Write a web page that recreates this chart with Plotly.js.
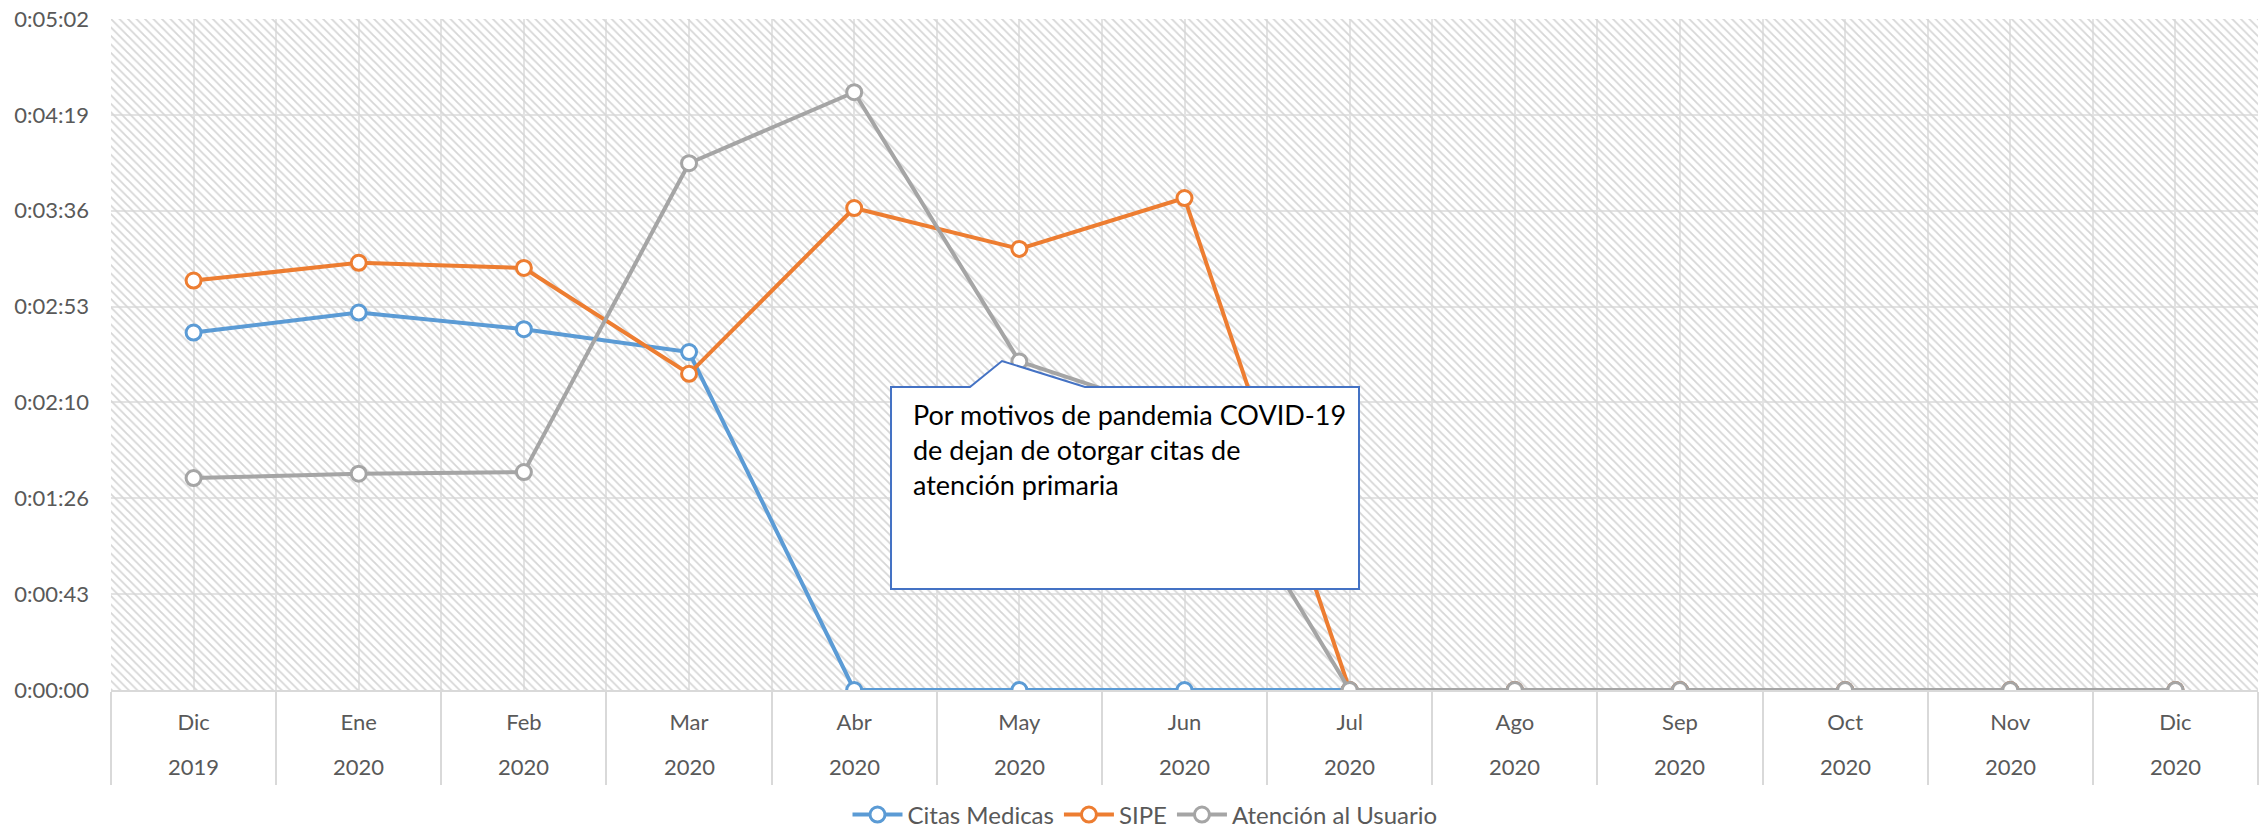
<!DOCTYPE html>
<html>
<head>
<meta charset="utf-8">
<script src="https://cdn.plot.ly/plotly-3.0.1.min.js"></script>
<style>html,body{margin:0;padding:0;background:#fff;}#chart{width:2262px;height:829px;}</style>
</head>
<body>
<div id="chart"></div>
<script>
// ---- data (values in seconds) ----
const months = ['Dic','Ene','Feb','Mar','Abr','May','Jun','Jul','Ago','Sep','Oct','Nov','Dic'];
const years  = ['2019','2020','2020','2020','2020','2020','2020','2020','2020','2020','2020','2020','2020'];
const citasMedicas = [161.1, 170.1, 162.6, 152.3, 0, 0, 0, 0, 0, 0, 0, 0, 0];
const sipe         = [184.5, 192.5, 190.2, 142.5, 217.2, 198.8, 221.7, 0, 0, 0, 0, 0, 0];
const atencion     = [95.5, 97.5, 98.2, 237.4, 269.4, 148.1, 123.5, 0, 0, 0, 0, 0, 0];
const yTickVals  = [0, 43.2, 86.4, 129.6, 172.8, 216, 259.2, 302.4];
const yTickText  = ['0:00:00','0:00:43','0:01:26','0:02:10','0:02:53','0:03:36','0:04:19','0:05:02'];
const seriesNames = ['Citas Medicas', 'SIPE', 'Atención al Usuario'];
const noteText = 'Por motivos de pandemia COVID-19<br>de dejan de otorgar citas de<br>atención primaria';

// ---- layout geometry ----
const W = 2262, H = 829;
const L = 111, R = 2258, T = 19, B = 690;
const px2x = X => (X - L) / (R - L);
const px2y = Y => (B - Y) / (B - T);

const idx = months.map((_, i) => i);
const bounds = [];
for (let i = 0; i <= months.length; i++) bounds.push(i - 0.5);
const yMax = yTickVals[yTickVals.length - 1];

const colors = ['#5B9BD5', '#ED7D31', '#A5A5A5'];
const textColor = '#595959';
const font = 'Lato, "Open Sans", sans-serif';

function lineTrace(name, y, color) {
  return {
    type: 'scatter', mode: 'lines+markers', name: name,
    x: idx, y: y,
    line: {color: color, width: 4},
    marker: {symbol: 'circle', size: 15, color: '#FFFFFF', line: {color: color, width: 3}},
    hoverinfo: 'skip'
  };
}

const hatch = {
  type: 'scatter', mode: 'lines',
  x: [bounds[0], bounds[bounds.length-1], bounds[bounds.length-1], bounds[0], bounds[0]],
  y: [0, 0, yMax, yMax, 0],
  fill: 'toself', fillcolor: 'rgba(0,0,0,0)',
  fillpattern: {shape: '\\', fgcolor: '#D6D6D6', bgcolor: 'rgba(0,0,0,0)', size: 6, solidity: 0.3},
  line: {width: 0}, showlegend: false, hoverinfo: 'skip'
};

const data = [
  hatch,
  lineTrace(seriesNames[0], citasMedicas, colors[0]),
  lineTrace(seriesNames[1], sipe, colors[1]),
  lineTrace(seriesNames[2], atencion, colors[2])
];

// callout shape (pixel geometry -> paper)
const bx0 = 891, bx1 = 1359, by0 = 387, by1 = 589;
const pb0 = 970, pb1 = 1085, apX = 1002, apY = 361;
const pts = [[bx0,by0],[pb0,by0],[apX,apY],[pb1,by0],[bx1,by0],[bx1,by1],[bx0,by1]];
const calloutPath = 'M ' + pts.map(p => px2x(p[0]).toFixed(5) + ',' + px2y(p[1]).toFixed(5)).join(' L ') + ' Z';

const annotations = years.map((yr, i) => ({
  xref: 'x', yref: 'paper', x: i, y: px2y(767), text: yr, showarrow: false,
  xanchor: 'center', yanchor: 'middle', font: {family: font, size: 22, color: textColor}
}));
annotations.push({
  xref: 'paper', yref: 'paper', x: px2x(911), y: px2y(396), text: noteText,
  showarrow: false, xanchor: 'left', yanchor: 'top', align: 'left',
  font: {family: font, size: 27, color: '#000000'}
});

const layout = {
  width: W, height: H,
  margin: {l: L, r: W - R, t: T, b: H - B},
  paper_bgcolor: '#FFFFFF', plot_bgcolor: '#FFFFFF',
  font: {family: font, size: 22, color: textColor},
  showlegend: true,
  legend: {
    orientation: 'h', xref: 'paper', x: px2x(1145), xanchor: 'center',
    yref: 'container', y: (H - 815) / H, yanchor: 'middle',
    font: {family: font, size: 24, color: textColor},
    itemwidth: 50, traceorder: 'normal'
  },
  xaxis: {
    type: 'linear', range: [bounds[0], bounds[bounds.length-1]],
    tickmode: 'array', tickvals: idx, ticktext: months,
    ticks: '', ticklabelstandoff: 12,
    showgrid: true, gridcolor: '#E3E3E3', gridwidth: 2,
    zeroline: false, showline: true, linecolor: '#D9D9D9', linewidth: 2,
    tickfont: {family: font, size: 22, color: textColor},
    minor: {tickvals: bounds, ticks: 'outside', ticklen: 93, tickwidth: 2, tickcolor: '#D9D9D9',
            showgrid: true, gridcolor: '#E3E3E3', gridwidth: 2},
    fixedrange: true
  },
  yaxis: {
    range: [0, yMax], tickmode: 'array', tickvals: yTickVals, ticktext: yTickText,
    showgrid: true, gridcolor: '#E3E3E3', gridwidth: 2, zeroline: false, showline: false,
    ticks: '', ticklabelstandoff: 21,
    tickfont: {family: font, size: 22, color: textColor},
    fixedrange: true
  },
  shapes: [{
    type: 'path', xref: 'paper', yref: 'paper', path: calloutPath,
    fillcolor: '#FFFFFF', line: {color: '#4472C4', width: 2}, layer: 'above'
  }],
  annotations: annotations
};

Plotly.newPlot('chart', data, layout, {displayModeBar: false, staticPlot: true});
</script>
</body>
</html>
